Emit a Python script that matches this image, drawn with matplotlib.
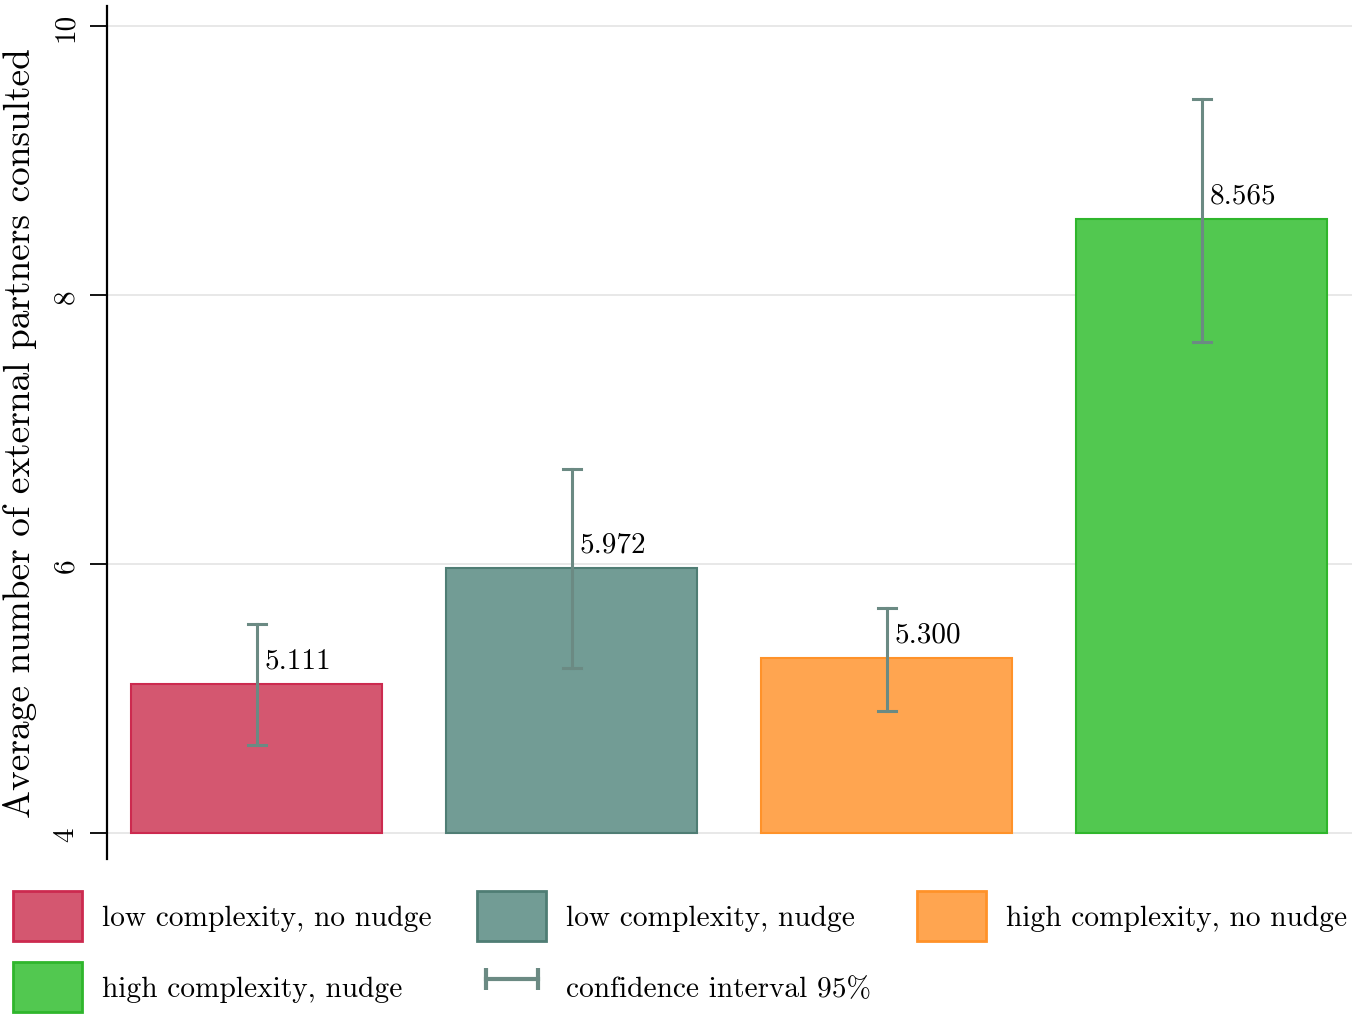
import matplotlib
matplotlib.use('Agg')
import matplotlib.pyplot as plt
from matplotlib.patches import Patch
from matplotlib.lines import Line2D

plt.rcParams['font.family'] = ['cmr10', 'DejaVu Serif']
plt.rcParams['axes.formatter.use_mathtext'] = True

groups = ['low complexity, no nudge', 'low complexity, nudge',
          'high complexity, no nudge', 'high complexity, nudge']
means = [5.111, 5.972, 5.300, 8.565]
ci_low = [4.654, 5.227, 4.907, 7.651]
ci_high = [5.554, 6.706, 5.673, 9.457]
value_labels = ['5.111', '5.972', '5.300', '8.565']

fills = ['#d45770', '#729c95', '#ffa550', '#52c850']
edges = ['#cc2a4f', '#4f7d74', '#ff9229', '#2fb62c']
ci_color = '#6b8a83'

fig = plt.figure(figsize=(13.55, 10.20), dpi=100)
ax = fig.add_axes([0.079, 0.157, 0.919, 0.836])

x = list(range(len(means)))
for i in x:
    ax.bar(i, means[i] - 4, bottom=4, width=0.797, color=fills[i],
           edgecolor=edges[i], linewidth=1.5, zorder=2)
    ax.plot([i, i], [ci_low[i], ci_high[i]], color=ci_color, lw=2.2, zorder=3)
    for yv in (ci_low[i], ci_high[i]):
        ax.plot([i - 0.029, i + 0.029], [yv, yv], color=ci_color, lw=2.2, zorder=3)
    ax.text(i + 0.025, means[i] + 0.08, value_labels[i], fontsize=21,
            ha='left', va='bottom', zorder=4)

ax.set_xlim(-0.475, 3.478)
ax.set_ylim(3.81, 10.15)
ax.set_yticks([4, 6, 8, 10])
ax.set_yticklabels(['4', '6', '8', '10'], rotation=90, va='center', fontsize=21)
ax.tick_params(axis='y', length=12, width=1.3, pad=8)
ax.set_xticks([])
ax.grid(axis='y', color='#e4e4e4', lw=1.2, zorder=0)
ax.set_axisbelow(True)
for s in ['top', 'right', 'bottom']:
    ax.spines[s].set_visible(False)
ax.spines['left'].set_linewidth(1.6)
ax.set_ylabel('Average number of external partners consulted', fontsize=26.9)
ax.yaxis.set_label_coords(-0.0565, 0.5)

handles = [Patch(facecolor=fills[i], edgecolor=edges[i], linewidth=2) for i in x]
ci_handle = Line2D([], [], color=ci_color, lw=3, marker='|', markersize=16,
                   markeredgewidth=3)
order_h = [handles[0], handles[3], handles[1], ci_handle, handles[2]]
order_l = [groups[0], groups[3], groups[1], 'confidence interval 95%', groups[2]]
fig.legend(order_h, order_l, loc='lower left', bbox_to_anchor=(0.004, 0.0),
           ncol=3, frameon=False, fontsize=21.2, numpoints=2,
           handlelength=2.35, handleheight=2.24, handletextpad=0.68,
           columnspacing=1.55, labelspacing=0.7, borderaxespad=0.0,
           borderpad=0.25)

fig.savefig('out.png', dpi=100)
